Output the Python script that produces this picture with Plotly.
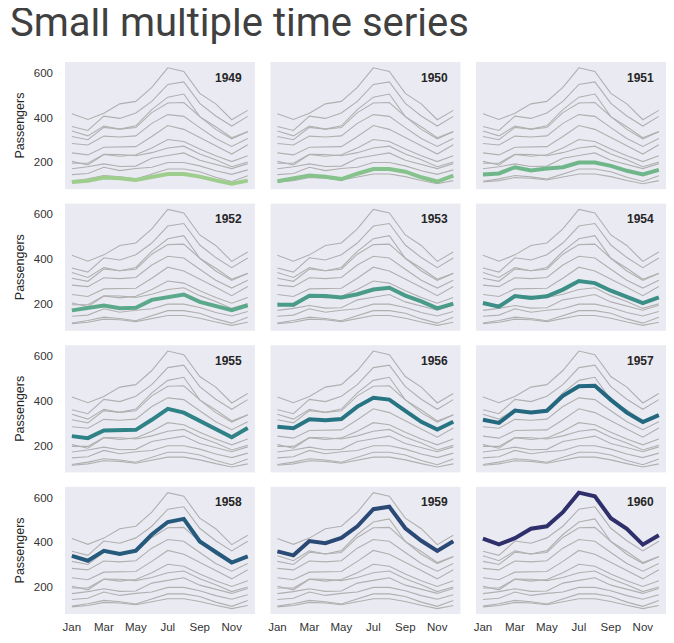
import plotly.graph_objects as go
from plotly.subplots import make_subplots

# Monthly airline passengers (thousands), 1949-1960
months = ["Jan", "Feb", "Mar", "Apr", "May", "Jun",
          "Jul", "Aug", "Sep", "Oct", "Nov", "Dec"]
years = [1949, 1950, 1951, 1952, 1953, 1954,
         1955, 1956, 1957, 1958, 1959, 1960]
passengers = [
    [112, 118, 132, 129, 121, 135, 148, 148, 136, 119, 104, 118],
    [115, 126, 141, 135, 125, 149, 170, 170, 158, 133, 114, 140],
    [145, 150, 178, 163, 172, 178, 199, 199, 184, 162, 146, 166],
    [171, 180, 193, 181, 183, 218, 230, 242, 209, 191, 172, 194],
    [196, 196, 236, 235, 229, 243, 264, 272, 237, 211, 180, 201],
    [204, 188, 235, 227, 234, 264, 302, 293, 259, 229, 203, 229],
    [242, 233, 267, 269, 270, 315, 364, 347, 312, 274, 237, 278],
    [284, 277, 317, 313, 318, 374, 413, 405, 355, 306, 271, 306],
    [315, 301, 356, 348, 355, 422, 465, 467, 404, 347, 305, 336],
    [340, 318, 362, 348, 363, 435, 491, 505, 404, 359, 310, 337],
    [360, 342, 406, 396, 420, 472, 548, 559, 463, 407, 362, 405],
    [417, 391, 419, 461, 472, 535, 622, 606, 508, 461, 390, 432],
]

# crest palette, one colour per year
crest = ["#9ecd8e", "#86c28b", "#6fb68a", "#5ba98a", "#4a9c89", "#3b8f87",
         "#2f8285", "#277583", "#23687f", "#255a7c", "#2a4a75", "#2e2f6b"]

month_idx = list(range(len(months)))

fig = make_subplots(rows=4, cols=3, shared_xaxes=True, shared_yaxes=True,
                    horizontal_spacing=0.026, vertical_spacing=0.0262)

for i, year in enumerate(years):
    r, c = i // 3 + 1, i % 3 + 1
    # every year in light gray as background context
    for vals in passengers:
        fig.add_trace(go.Scatter(x=month_idx, y=vals, mode="lines",
                                 line=dict(color="#b0b0b0", width=1.1),
                                 hoverinfo="skip", showlegend=False),
                      row=r, col=c)
    # highlighted year
    fig.add_trace(go.Scatter(x=month_idx, y=passengers[i], mode="lines",
                             line=dict(color=crest[i], width=4),
                             name=str(year), showlegend=False),
                  row=r, col=c)
    fig.add_annotation(text="<b>%d</b>" % year, xref="x domain", yref="y domain",
                       x=0.945, y=0.878, xanchor="right", yanchor="middle",
                       showarrow=False, font=dict(size=12, color="#262626"),
                       row=r, col=c)

fig.update_xaxes(range=[-0.43, 11.45], tickvals=month_idx[::2],
                 ticktext=months[::2], showgrid=False, zeroline=False,
                 showline=False, ticks="", ticklabelstandoff=4,
                 tickfont=dict(size=11.5, color="#333333"))
fig.update_yaxes(range=[80, 648], tickvals=[200, 400, 600],
                 showgrid=False, zeroline=False, showline=False, ticks="",
                 ticklabelstandoff=11,
                 tickfont=dict(size=11.5, color="#333333"))
for r in range(1, 5):
    fig.update_yaxes(title=dict(text="Passengers", standoff=6,
                                font=dict(size=12.5, color="#262626")),
                     row=r, col=1)

# the page body adds 8px around the figure, so the figure is sized to fit
fig.update_layout(
    width=658, height=627,
    margin=dict(l=57, r=0, t=54, b=21),
    plot_bgcolor="#eaeaf2",
    paper_bgcolor="white",
    font=dict(family="Liberation Sans, Arial, sans-serif"),
    title=dict(text="Small multiple time series", x=0.003, xanchor="left",
               y=0.978, yanchor="middle",
               font=dict(family="Roboto, sans-serif", size=40, color="#404040")),
)

fig.write_html("out.html")
